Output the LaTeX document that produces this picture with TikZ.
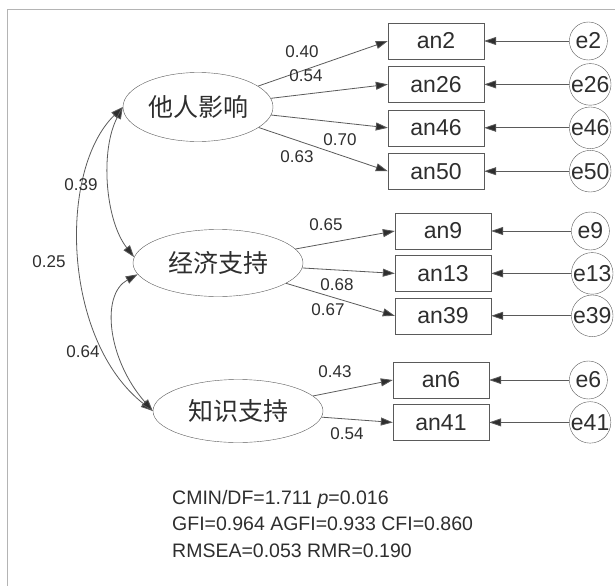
\documentclass[tikz,border=0pt]{standalone}
\usepackage{fontspec}
\setmainfont{Liberation Sans}
\newfontfamily\cjk{Noto Sans CJK SC}
\usetikzlibrary{arrows.meta,positioning,shapes.geometric}
\definecolor{linegray}{HTML}{5A5A5A}
\definecolor{textgray}{HTML}{2E2E2E}
\definecolor{framegray}{HTML}{B4B4B4}

\begin{document}
\begin{tikzpicture}[
  x=1pt, y=-1pt,
  node distance=7pt and 85pt,
  latent/.style={draw=linegray,ellipse,inner sep=0pt,minimum width=170pt,minimum height=66pt,font=\cjk\fontsize{25}{25}\selectfont,text=textgray},
  item/.style={draw=linegray,rectangle,inner sep=0pt,minimum width=96pt,minimum height=36pt,font=\fontsize{23}{23}\selectfont,text=textgray},
  err/.style={draw=linegray,circle,inner sep=0pt,minimum size=38pt,font=\fontsize{23}{23}\selectfont,text=textgray},
  coef/.style={font=\fontsize{17}{17}\selectfont,text=textgray,inner sep=0pt},
  arrow/.style={-{Triangle[length=12pt,width=8pt,fill=textgray]},draw=linegray,line width=0.8pt},
  both/.style={{Triangle[length=12pt,width=8pt,fill=textgray]}-{Triangle[length=12pt,width=8pt,fill=textgray]},draw=linegray,line width=0.8pt}
]
\useasboundingbox (0,0) rectangle (615,586);
\draw[framegray,line width=1pt] (615,10) -- (7,10) -- (7,586);
% latent factors
\node[latent,minimum width=150pt,minimum height=69pt] (oth) at (198,107) {他人影响};
\node[latent,minimum height=67pt] (eco) at (218,263) {经济支持};
\node[latent,minimum height=63pt] (kno) at (238,411) {知识支持};
% observed items
\node[item] (an2) at (436,41) {an2};
\node[item,below=of an2] (an26) {an26};
\node[item,below=of an26] (an46) {an46};
\node[item,below=of an46] (an50) {an50};
\node[item] (an9) at (443,231) {an9};
\node[item,below=6pt of an9] (an13) {an13};
\node[item,below=6pt of an13] (an39) {an39};
\node[item] (an6) at (441,380) {an6};
\node[item,below=6pt of an6] (an41) {an41};
% error terms
\node[err,right=of an2] (e2) {e2};
\node[err,right=of an26] (e26) {e26};
\node[err,right=of an46] (e46) {e46};
\node[err,right=of an50] (e50) {e50};
\node[err,right=80pt of an9] (e9) {e9};
\node[err,right=80pt of an13] (e13) {e13};
\node[err,right=80pt of an39] (e39) {e39};
\node[err,right=80pt of an6] (e6) {e6};
\node[err,right=80pt of an41] (e41) {e41};
% loadings
\draw[arrow] (oth) -- (an2.west);
\draw[arrow] (oth) -- (an26.west);
\draw[arrow] (oth) -- (an46.west);
\draw[arrow] (oth) -- (an50.west);
\draw[arrow] (eco) -- (an9.west);
\draw[arrow] (eco) -- (an13.west);
\draw[arrow] (eco) -- (an39.west);
\draw[arrow] (kno) -- (an6.west);
\draw[arrow] (kno) -- (an41.west);
\foreach \i in {2,26,46,50,9,13,39,6,41}
  \draw[arrow] (e\i) -- (an\i);
% covariances
\draw[both] (oth.west) .. controls (100,150) and (105,220) .. (eco.176);
\draw[both] (oth.west) .. controls (58,170) and (62,340) .. (kno.west);
\draw[both] (eco.188) .. controls (100,295) and (108,360) .. (kno.west);
% coefficients
\node[coef] (c1) at (302,52) {0.40};
\node[coef] (c2) at (306,76) {0.54};
\node[coef] (c3) at (340,140) {0.70};
\node[coef] (c4) at (297,157) {0.63};
\node[coef] (c5) at (326,225) {0.65};
\node[coef] (c6) at (337,285) {0.68};
\node[coef] (c7) at (328,310) {0.67};
\node[coef] (c8) at (335,372) {0.43};
\node[coef] (c9) at (347,434) {0.54};
\node[coef] (r1) at (81,185) {0.39};
\node[coef] (r2) at (49,262) {0.25};
\node[coef] (r3) at (83,352) {0.64};
% fit indices
\node[anchor=west,align=left,inner sep=0pt,text=textgray,font=\fontsize{19.5}{26.5}\selectfont] (fit) at (172,524)
  {CMIN/DF=1.711 \textit{p}=0.016\\GFI=0.964 AGFI=0.933 CFI=0.860\\RMSEA=0.053 RMR=0.190};
\end{tikzpicture}
\end{document}
